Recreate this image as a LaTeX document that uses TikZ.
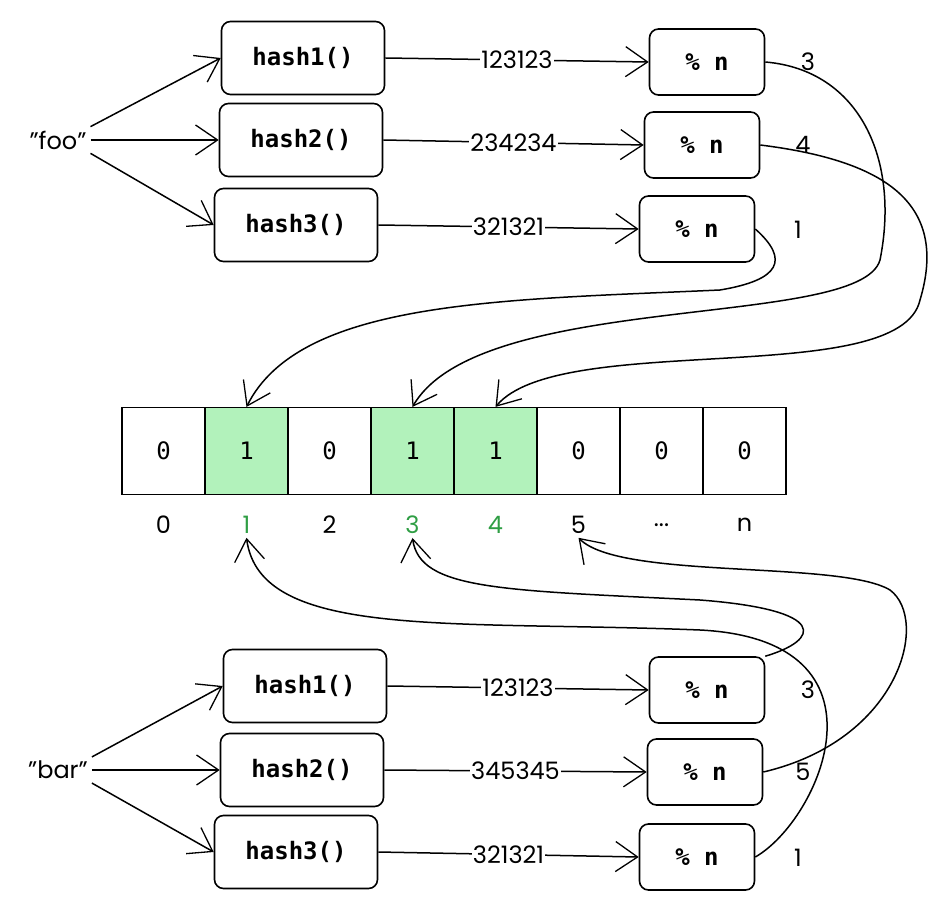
\documentclass[tikz,border=0pt]{standalone}
\usepackage{fontspec}
\setmainfont{Poppins}
\newfontfamily\monof{DejaVu Sans Mono}
\usetikzlibrary{arrows.meta}
\definecolor{cellg}{HTML}{B2F2BB}
\definecolor{txtg}{HTML}{2F9E44}
\newcommand{\mydots}{...}
\begin{document}
\begin{tikzpicture}[x=1pt,y=-1pt,line width=1.5pt,
 box/.style={draw,line width=1.6pt,rounded corners=9pt,font=\monof\bfseries\fontsize{24}{26}\selectfont,inner sep=0pt},
 hb/.style={box,minimum width=163pt,minimum height=73pt},
 mb/.style={box,minimum width=115pt,minimum height=66pt},
 cell/.style={draw,line width=1.2pt,minimum width=83pt,minimum height=87pt,inner sep=0pt,font=\monof\fontsize{24}{26}\selectfont},
 lab/.style={font=\fontsize{24}{26}\selectfont,fill=white,inner sep=1pt},
 num/.style={font=\fontsize{24}{26}\selectfont},
 arr/.style={-{Straight Barb[length=22pt,width=30pt,line width=1.3pt]}},
 ]
\useasboundingbox (0,0) rectangle (945,909);
% foo group
\node[num] (foo) at (58,140) {"foo"};
\node[hb] (a1) at (303,58) {hash1()};
\node[hb] (a2) at (301,140) {hash2()};
\node[hb] (a3) at (296,225) {hash3()};
\node[mb] (m1) at (707,62) {\% n};
\node[mb] (m2) at (702,145) {\% n};
\node[mb] (m3) at (697,229) {\% n};
\node[num] (n1) at (808,62) {3};
\node[num] (n2) at (803,145) {4};
\node[num] (n3) at (798,230) {1};
\draw[arr] (foo.north east) -- (a1.west);
\draw[arr] (foo.east) -- (a2.west);
\draw[arr] (foo.south east) -- (a3.west);
\draw[arr] (a1.east) -- node[lab]{123123} (m1.west);
\draw[arr] (a2.east) -- node[lab]{234234} (m2.west);
\draw[arr] (a3.east) -- node[lab]{321321} (m3.west);
% array
\foreach \i/\v/\f in {0/0/white,1/1/cellg,2/0/white,3/1/cellg,4/1/cellg,5/0/white,6/0/white,7/0/white}{
 \node[cell,fill=\f] (c\i) at (163.5+83*\i,451) {\v};
}
\foreach \i/\t/\c in {0/0/black,1/1/txtg,2/2/black,3/3/txtg,4/4/txtg,5/5/black,6/\mydots/black,7/n/black}{
 \node[num,text=\c] (k\i) at (163.5+83*\i,525) {\t};
}
% foo curves
\draw[arr] (m1.east) .. controls (860,70) and (900,160) .. (880,260) .. controls (860,330) and (480,290) .. (c3.north);
\draw[arr] (m2.east) .. controls (880,160) and (950,200) .. (920,300) .. controls (900,390) and (560,330) .. (c4.north);
\draw[arr] (m3.east) .. controls (790,260) and (780,280) .. (720,290) .. controls (500,300) and (300,300) .. (c1.north);
% bar group
\node[num] (bar) at (58,770) {"bar"};
\node[hb] (b1) at (305,686) {hash1()};
\node[hb] (b2) at (302,770) {hash2()};
\node[hb] (b3) at (296,852) {hash3()};
\node[mb] (p1) at (707,690) {\% n};
\node[mb] (p2) at (705,772) {\% n};
\node[mb] (p3) at (697,857) {\% n};
\node[num] (q1) at (808,690) {3};
\node[num] (q2) at (803,772) {5};
\node[num] (q3) at (798,858) {1};
\draw[arr] (bar.north east) -- (b1.west);
\draw[arr] (bar.east) -- (b2.west);
\draw[arr] (bar.south east) -- (b3.west);
\draw[arr] (b1.east) -- node[lab]{123123} (p1.west);
\draw[arr] (b2.east) -- node[lab]{345345} (p2.west);
\draw[arr] (b3.east) -- node[lab]{321321} (p3.west);
% bar curves
\draw[arr] (p1.north east) .. controls (820,640) and (830,610) .. (700,600) .. controls (500,590) and (420,590) .. (k3.south);
\draw[arr] (p2.east) .. controls (900,740) and (930,620) .. (890,590) .. controls (840,560) and (620,580) .. (k5.south);
\draw[arr] (p3.east) .. controls (820,820) and (900,640) .. (700,630) .. controls (450,620) and (260,640) .. (k1.south);
\end{tikzpicture}
\end{document}
